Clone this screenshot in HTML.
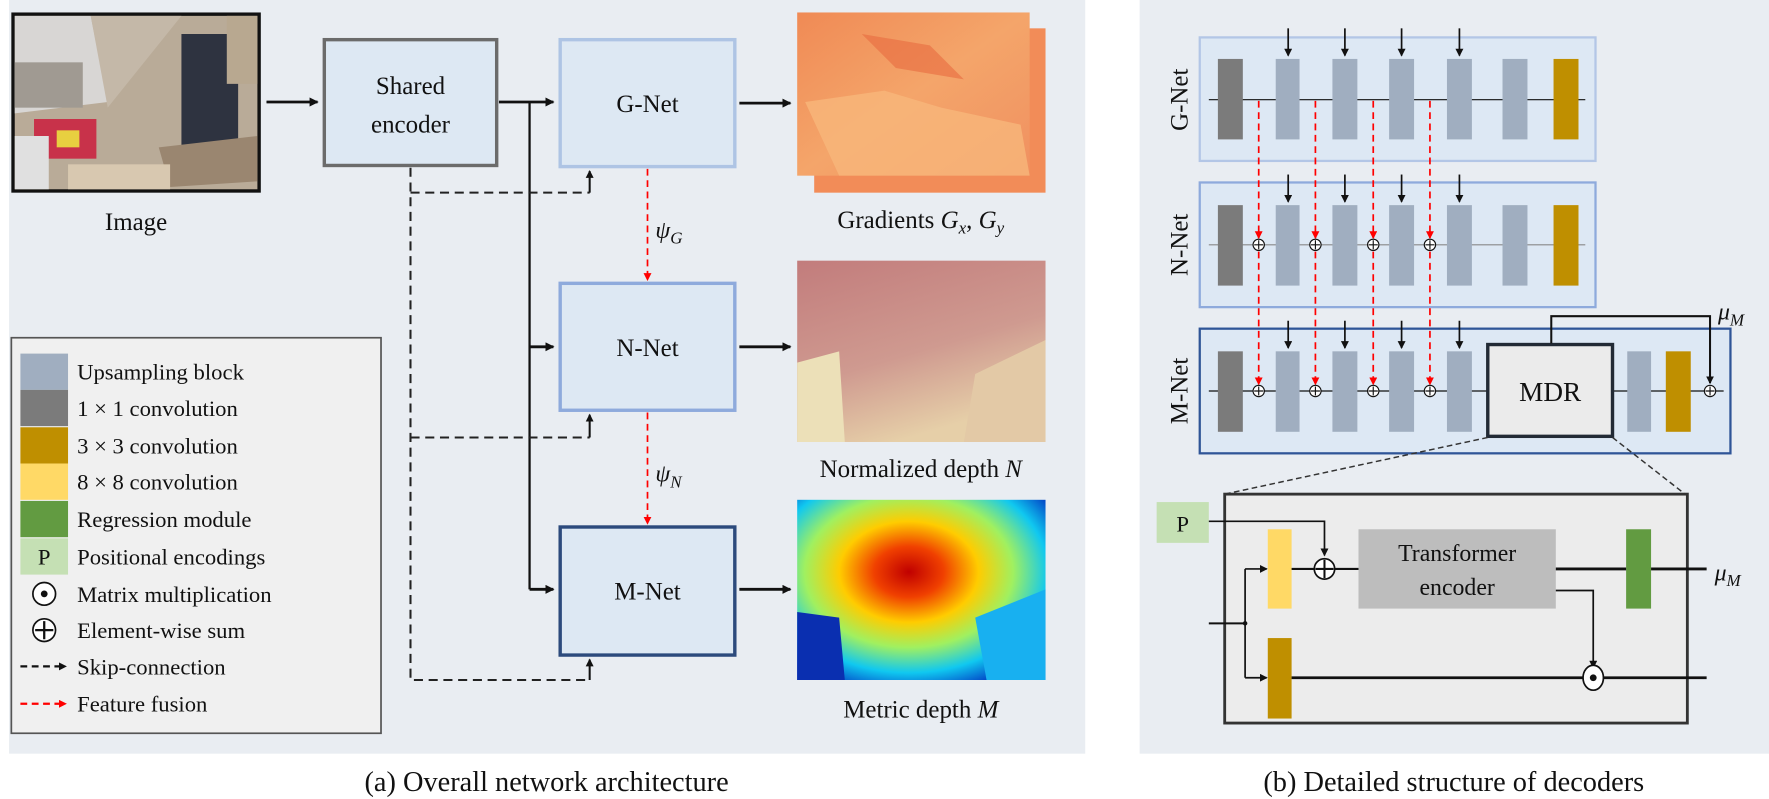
<!DOCTYPE html>
<html><head><meta charset="utf-8"><style>
html,body{margin:0;padding:0;background:#fff;}
svg{display:block;}
text{font-family:"Liberation Serif",serif;fill:#111;}
</style></head><body>
<svg width="1769" height="799" viewBox="0 0 1560 705" preserveAspectRatio="none" xmlns="http://www.w3.org/2000/svg">
<defs>
<marker id="ab" markerWidth="8" markerHeight="8" refX="7" refY="4" orient="auto" markerUnits="userSpaceOnUse"><path d="M0,0 L8,4 L0,8 Z" fill="#111"/></marker>
<marker id="ar" markerWidth="8" markerHeight="8" refX="7" refY="4" orient="auto" markerUnits="userSpaceOnUse"><path d="M0,0 L8,4 L0,8 Z" fill="#f00"/></marker>
<marker id="abs" markerWidth="7" markerHeight="7" refX="6" refY="3.5" orient="auto" markerUnits="userSpaceOnUse"><path d="M0,0 L7,3.5 L0,7 Z" fill="#111"/></marker>
<marker id="ars" markerWidth="7" markerHeight="7" refX="6" refY="3.5" orient="auto" markerUnits="userSpaceOnUse"><path d="M0,0 L7,3.5 L0,7 Z" fill="#f00"/></marker>
<linearGradient id="grad" x1="0" y1="0" x2="1" y2="1"><stop offset="0" stop-color="#f08a55"/><stop offset="0.5" stop-color="#f4a56a"/><stop offset="1" stop-color="#f09060"/></linearGradient>
<linearGradient id="nd" x1="0" y1="0" x2="0.4" y2="1"><stop offset="0" stop-color="#c27c7c"/><stop offset="0.6" stop-color="#cf9a90"/><stop offset="1" stop-color="#e6cfa8"/></linearGradient>
<radialGradient id="md" cx="0.45" cy="0.4" r="0.7"><stop offset="0" stop-color="#c00000"/><stop offset="0.2" stop-color="#f04000"/><stop offset="0.4" stop-color="#ffcc00"/><stop offset="0.6" stop-color="#a0f060"/><stop offset="0.8" stop-color="#10c8f0"/><stop offset="1" stop-color="#0030c0"/></radialGradient>
</defs>
<rect x="8" y="0" width="949" height="665" fill="#e9edf2"/>
<rect x="1005" y="0" width="555" height="665" fill="#e9edf2"/>
<!-- photo -->
<rect x="10" y="11" width="220" height="159" fill="#111"/>
<rect x="13" y="14" width="214" height="153" fill="#b9ab98"/>
<polygon points="13,14 80,14 95,90 13,100" fill="#d8d6d4"/>
<rect x="13" y="55" width="60" height="40" fill="#a09a92"/>
<polygon points="80,14 160,14 95,95" fill="#c4b8a8"/>
<rect x="160" y="30" width="50" height="100" fill="#2e3340"/>
<rect x="200" y="14" width="27" height="60" fill="#b8a890"/>
<polygon points="140,130 227,120 227,160 150,165" fill="#9a8670"/>
<rect x="30" y="105" width="55" height="35" fill="#c8324a"/>
<rect x="50" y="115" width="20" height="15" fill="#e8d040"/>
<rect x="13" y="120" width="30" height="47" fill="#e0e0e0"/>
<rect x="60" y="145" width="90" height="22" fill="#d8c8b0"/>
<text x="120" y="203" font-size="22" text-anchor="middle">Image</text>
<line x1="235" y1="90" x2="280" y2="90" stroke="#111" stroke-width="2.5" marker-end="url(#ab)"/>
<!-- encoder & nets -->
<rect x="286" y="35" width="152" height="111" fill="#dde8f3" stroke="#6b6b6b" stroke-width="3"/>
<text x="362" y="83" font-size="22" text-anchor="middle">Shared</text>
<text x="362" y="117" font-size="22" text-anchor="middle">encoder</text>
<rect x="494" y="35" width="154" height="112" fill="#dde8f3" stroke="#aec4e4" stroke-width="3"/>
<text x="571" y="99" font-size="22" text-anchor="middle">G-Net</text>
<rect x="494" y="250" width="154" height="112" fill="#dde8f3" stroke="#8eaadc" stroke-width="3"/>
<text x="571" y="314" font-size="22" text-anchor="middle">N-Net</text>
<rect x="494" y="465" width="154" height="113" fill="#dde8f3" stroke="#2c4a7c" stroke-width="3"/>
<text x="571" y="529" font-size="22" text-anchor="middle">M-Net</text>
<line x1="440" y1="90" x2="488" y2="90" stroke="#111" stroke-width="2.5" marker-end="url(#ab)"/>
<line x1="467" y1="90" x2="467" y2="520" stroke="#111" stroke-width="2"/>
<line x1="467" y1="306" x2="488" y2="306" stroke="#111" stroke-width="2.5" marker-end="url(#ab)"/>
<line x1="467" y1="520" x2="488" y2="520" stroke="#111" stroke-width="2.5" marker-end="url(#ab)"/>
<g stroke="#222" stroke-width="1.8" fill="none" stroke-dasharray="8,5">
<path d="M362,148 V600 H520"/>
<path d="M362,170 H520"/>
<path d="M362,386 H520"/>
</g>
<g stroke="#111" stroke-width="1.8">
<line x1="520" y1="170" x2="520" y2="151" marker-end="url(#abs)"/>
<line x1="520" y1="386" x2="520" y2="366" marker-end="url(#abs)"/>
<line x1="520" y1="600" x2="520" y2="582" marker-end="url(#abs)"/>
</g>
<g stroke="#f00" stroke-width="1.5" stroke-dasharray="6,4">
<line x1="571" y1="149" x2="571" y2="247" marker-end="url(#ars)"/>
<line x1="571" y1="364" x2="571" y2="462" marker-end="url(#ars)"/>
</g>
<text x="578" y="210" font-size="21" font-style="italic">ψ<tspan font-size="15" dy="5">G</tspan></text>
<text x="578" y="425" font-size="21" font-style="italic">ψ<tspan font-size="15" dy="5">N</tspan></text>
<g stroke="#111" stroke-width="2.5">
<line x1="652" y1="91" x2="697" y2="91" marker-end="url(#ab)"/>
<line x1="652" y1="306" x2="697" y2="306" marker-end="url(#ab)"/>
<line x1="652" y1="520" x2="697" y2="520" marker-end="url(#ab)"/>
</g>
<!-- output images -->
<rect x="718" y="25" width="204" height="145" fill="#f28c58"/>
<rect x="703" y="11" width="205" height="144" fill="url(#grad)"/>
<polygon points="710,90 780,80 830,95 900,110 908,155 740,155" fill="#f7b67a" opacity="0.8"/>
<polygon points="760,30 820,40 850,70 790,60" fill="#e86a40" opacity="0.6"/>
<text x="812" y="201" font-size="22" text-anchor="middle">Gradients <tspan font-style="italic">G</tspan><tspan font-style="italic" font-size="15" dy="5">x</tspan><tspan dy="-5">, </tspan><tspan font-style="italic">G</tspan><tspan font-style="italic" font-size="15" dy="5">y</tspan></text>
<rect x="703" y="230" width="219" height="160" fill="url(#nd)"/>
<polygon points="703,320 740,310 745,390 703,390" fill="#ece0b8"/>
<polygon points="860,330 922,300 922,390 850,390" fill="#e3c9a6"/>
<text x="812" y="421" font-size="22" text-anchor="middle">Normalized depth <tspan font-style="italic">N</tspan></text>
<rect x="703" y="441" width="219" height="159" fill="url(#md)"/>
<polygon points="703,540 740,545 745,600 703,600" fill="#0a2fb0"/>
<polygon points="860,545 922,520 922,600 870,600" fill="#18b0f0"/>
<text x="812" y="633" font-size="22" text-anchor="middle">Metric depth <tspan font-style="italic">M</tspan></text>
<!-- legend -->
<rect x="10" y="298" width="326" height="349" fill="#f0f0f0" stroke="#555" stroke-width="1.5"/>
<rect x="18" y="312" width="42" height="32" fill="#a0aec0"/>
<rect x="18" y="344" width="42" height="32" fill="#7b7b7b"/>
<rect x="18" y="377" width="42" height="32" fill="#bf8f00"/>
<rect x="18" y="409" width="42" height="32" fill="#ffd966"/>
<rect x="18" y="442" width="42" height="32" fill="#629b41"/>
<rect x="18" y="475" width="42" height="32" fill="#c5e0b4"/>
<text x="39" y="498" font-size="20" text-anchor="middle">P</text>
<circle cx="39" cy="524" r="10" fill="#fff" stroke="#111" stroke-width="1.5"/><circle cx="39" cy="524" r="3" fill="#111"/>
<circle cx="39" cy="556" r="10" fill="#fff" stroke="#111" stroke-width="1.5"/><path d="M31,556 H47 M39,548 V564" stroke="#111" stroke-width="2"/>
<line x1="18" y1="588" x2="58" y2="588" stroke="#111" stroke-width="2" stroke-dasharray="6,4" marker-end="url(#abs)"/>
<line x1="18" y1="621" x2="58" y2="621" stroke="#f00" stroke-width="2" stroke-dasharray="6,4" marker-end="url(#ars)"/>
<g font-size="20">
<text x="68" y="335">Upsampling block</text>
<text x="68" y="367">1 × 1 convolution</text>
<text x="68" y="400">3 × 3 convolution</text>
<text x="68" y="432">8 × 8 convolution</text>
<text x="68" y="465">Regression module</text>
<text x="68" y="498">Positional encodings</text>
<text x="68" y="531">Matrix multiplication</text>
<text x="68" y="563">Element-wise sum</text>
<text x="68" y="595">Skip-connection</text>
<text x="68" y="628">Feature fusion</text>
</g>
<text x="482" y="698" font-size="25" text-anchor="middle">(a) Overall network architecture</text>
<text x="1282" y="698" font-size="25" text-anchor="middle">(b) Detailed structure of decoders</text>
<!-- right panel decoders -->
<rect x="1058" y="33" width="349" height="109" fill="#dde8f4" stroke="#b3c6e6" stroke-width="2"/>
<rect x="1058" y="161" width="349" height="110" fill="#dde8f4" stroke="#8eaadc" stroke-width="2"/>
<rect x="1058" y="290" width="468" height="110" fill="#dde8f4" stroke="#2f5597" stroke-width="2"/>
<text transform="translate(1047,88) rotate(-90)" font-size="22" text-anchor="middle">G-Net</text>
<text transform="translate(1047,216) rotate(-90)" font-size="22" text-anchor="middle">N-Net</text>
<text transform="translate(1047,345) rotate(-90)" font-size="22" text-anchor="middle">M-Net</text>
<line x1="1066" y1="88" x2="1398" y2="88" stroke="#111" stroke-width="1"/>
<line x1="1066" y1="216" x2="1398" y2="216" stroke="#888" stroke-width="1"/>
<line x1="1066" y1="345" x2="1520" y2="345" stroke="#111" stroke-width="1"/>
<g id="row">
<rect x="1074" y="52" width="22" height="71" fill="#7b7b7b"/>
<rect x="1125" y="52" width="21" height="71" fill="#a0aec0"/>
<rect x="1175" y="52" width="22" height="71" fill="#a0aec0"/>
<rect x="1225" y="52" width="22" height="71" fill="#a0aec0"/>
<rect x="1276" y="52" width="22" height="71" fill="#a0aec0"/>
<g stroke="#111" stroke-width="1.5">
<line x1="1136" y1="25" x2="1136" y2="49" marker-end="url(#abs)"/>
<line x1="1186" y1="25" x2="1186" y2="49" marker-end="url(#abs)"/>
<line x1="1236" y1="25" x2="1236" y2="49" marker-end="url(#abs)"/>
<line x1="1287" y1="25" x2="1287" y2="49" marker-end="url(#abs)"/>
</g>
</g>
<use href="#row" transform="translate(0,129)"/>
<use href="#row" transform="translate(0,258)"/>
<rect x="1325" y="52" width="22" height="71" fill="#a0aec0"/>
<rect x="1370" y="52" width="22" height="71" fill="#bf8f00"/>
<rect x="1325" y="181" width="22" height="71" fill="#a0aec0"/>
<rect x="1370" y="181" width="22" height="71" fill="#bf8f00"/>
<g stroke="#f00" stroke-width="1.5" stroke-dasharray="6,4">
<line x1="1110" y1="89" x2="1110" y2="210" marker-end="url(#ars)"/><line x1="1110" y1="222" x2="1110" y2="339" marker-end="url(#ars)"/>
<line x1="1160" y1="89" x2="1160" y2="210" marker-end="url(#ars)"/><line x1="1160" y1="222" x2="1160" y2="339" marker-end="url(#ars)"/>
<line x1="1211" y1="89" x2="1211" y2="210" marker-end="url(#ars)"/><line x1="1211" y1="222" x2="1211" y2="339" marker-end="url(#ars)"/>
<line x1="1261" y1="89" x2="1261" y2="210" marker-end="url(#ars)"/><line x1="1261" y1="222" x2="1261" y2="339" marker-end="url(#ars)"/>
</g>
<g fill="#fff" stroke="#111" stroke-width="1">
<circle cx="1110" cy="216" r="5"/><circle cx="1160" cy="216" r="5"/><circle cx="1211" cy="216" r="5"/><circle cx="1261" cy="216" r="5"/>
<circle cx="1110" cy="345" r="5"/><circle cx="1160" cy="345" r="5"/><circle cx="1211" cy="345" r="5"/><circle cx="1261" cy="345" r="5"/><circle cx="1508" cy="345" r="5"/>
</g>
<g stroke="#111" stroke-width="1">
<path d="M1106,216H1114M1110,212V220M1156,216H1164M1160,212V220M1207,216H1215M1211,212V220M1257,216H1265M1261,212V220"/>
<path d="M1106,345H1114M1110,341V349M1156,345H1164M1160,341V349M1207,345H1215M1211,341V349M1257,345H1265M1261,341V349M1504,345H1512M1508,341V349"/>
</g>
<rect x="1312" y="304" width="110" height="81" fill="#ebebeb" stroke="#222a35" stroke-width="3"/>
<text x="1367" y="354" font-size="24" text-anchor="middle">MDR</text>
<rect x="1435" y="310" width="21" height="71" fill="#a0aec0"/>
<rect x="1469" y="310" width="22" height="71" fill="#bf8f00"/>
<path d="M1368,303 V279 H1508 V338" fill="none" stroke="#111" stroke-width="1.8" marker-end="url(#abs)"/>
<text x="1515" y="282" font-size="21" font-style="italic">μ<tspan font-size="15" dy="5">M</tspan></text>
<g stroke="#333" stroke-width="1.3" stroke-dasharray="5,3">
<line x1="1312" y1="386" x2="1080" y2="436"/><line x1="1422" y1="386" x2="1486" y2="436"/>
</g>
<rect x="1080" y="436" width="408" height="202" fill="#ececec" stroke="#333" stroke-width="2.5"/>
<rect x="1020" y="443" width="46" height="36" fill="#c5e0b4"/>
<text x="1043" y="469" font-size="20" text-anchor="middle">P</text>
<path d="M1066,460 H1168 V490" fill="none" stroke="#111" stroke-width="1.5" marker-end="url(#abs)"/>
<rect x="1118" y="467" width="21" height="70" fill="#ffd966"/>
<rect x="1198" y="467" width="174" height="70" fill="#bdbdbd"/>
<text x="1285" y="495" font-size="21" text-anchor="middle">Transformer</text>
<text x="1285" y="525" font-size="21" text-anchor="middle">encoder</text>
<rect x="1434" y="467" width="22" height="70" fill="#629b41"/>
<line x1="1139" y1="502" x2="1198" y2="502" stroke="#111" stroke-width="1.8"/>
<circle cx="1168" cy="502" r="9" fill="#fff" stroke="#111" stroke-width="1.5"/><path d="M1160,502H1176M1168,494V510" stroke="#111" stroke-width="1.8"/>
<line x1="1372" y1="502" x2="1434" y2="502" stroke="#111" stroke-width="2.5"/>
<line x1="1456" y1="502" x2="1505" y2="502" stroke="#111" stroke-width="2.5"/>
<text x="1512" y="512" font-size="21" font-style="italic">μ<tspan font-size="15" dy="5">M</tspan></text>
<path d="M1372,521 H1405 V589" fill="none" stroke="#111" stroke-width="1.5" marker-end="url(#abs)"/>
<line x1="1066" y1="550" x2="1098" y2="550" stroke="#111" stroke-width="1.8"/>
<line x1="1098" y1="502" x2="1098" y2="598" stroke="#111" stroke-width="1.5"/>
<line x1="1098" y1="502" x2="1117" y2="502" stroke="#111" stroke-width="1.5" marker-end="url(#abs)"/>
<line x1="1098" y1="598" x2="1117" y2="598" stroke="#111" stroke-width="1.5" marker-end="url(#abs)"/>
<circle cx="1098" cy="550" r="2" fill="#111"/>
<rect x="1118" y="563" width="21" height="71" fill="#bf8f00"/>
<line x1="1139" y1="598" x2="1505" y2="598" stroke="#111" stroke-width="2.5"/>
<ellipse cx="1405" cy="598" rx="9" ry="11" fill="#fff" stroke="#111" stroke-width="1.5"/><circle cx="1405" cy="598" r="3" fill="#111"/>
</svg>
</body></html>
